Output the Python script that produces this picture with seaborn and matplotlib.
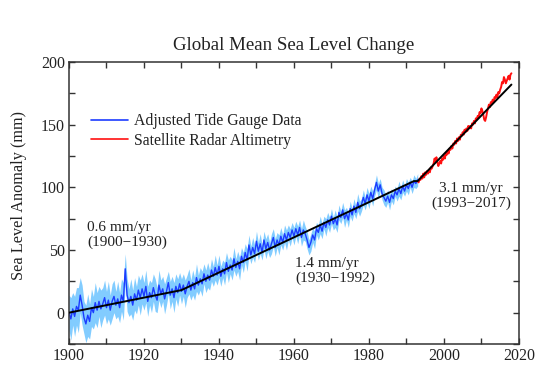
import numpy as np
import pandas as pd
import matplotlib
matplotlib.use("Agg")
import matplotlib.pyplot as plt
import seaborn as sns
from matplotlib.ticker import MultipleLocator

# ---------------- data ----------------
# Adjusted tide gauge record, half-year steps 1900.0 .. 1993.0
tide_years = [1900 + 0.5 * i for i in range(187)]
tide_vals = [
    0, -5, 3, -3, 5, 2, 14, 6, -4, -9, -2, -7, 4, 0, 8, 2, 9, 3, 7, 12,
    4, 10, 2, 9, 13, 6, 11, 4, 14, 9, 35, 14, 8, 13, 6, 15, 10, 18, 12, 19,
    13, 21, 9, 16, 12, 20, 14, 10, 22, 15, 19, 11, 17, 24, 14, 19, 12, 21, 16, 23,
    17, 22, 15, 21, 25, 18, 24, 19, 28, 22, 27, 23, 31, 25, 30, 26, 34, 29, 36, 30,
    37, 29, 35, 31, 40, 33, 38, 34, 43, 36, 41, 35, 45, 40, 48, 42, 54, 46, 52, 47,
    57, 49, 55, 48, 58, 51, 56, 50, 55, 60, 52, 58, 54, 61, 56, 63, 58, 64, 60, 66,
    61, 67, 62, 68, 60, 66, 63, 58, 52, 56, 62, 58, 67, 64, 70, 65, 72, 68, 74, 70,
    77, 71, 75, 70, 80, 76, 82, 75, 79, 74, 83, 78, 85, 80, 88, 83, 86, 92, 87, 94,
    89, 96, 91, 98, 104, 97, 102, 95, 92, 89, 93, 88, 94, 91, 97, 94, 99, 95, 101, 97,
    102, 99, 104, 100, 105, 103, 106]
tide_err = [
    14, 17, 13, 16, 15, 18, 14, 16, 13, 15, 17, 14, 15, 13, 16, 14, 12, 15, 13, 14,
    13, 15, 12, 14, 13, 11, 14, 12, 13, 15, 12, 13, 11, 14, 12, 13, 11, 12, 14, 12,
    11, 13, 12, 10, 12, 11, 13, 10, 12, 11, 10, 12, 11, 9, 11, 10, 12, 10, 11, 9,
    10, 9, 11, 9, 10, 8, 10, 9, 11, 8, 9, 10, 8, 9, 10, 8, 9, 8, 10, 8,
    9, 8, 7, 9, 8, 9, 7, 8, 9, 7, 8, 9, 7, 8, 7, 9, 8, 7, 8, 7,
    8, 7, 8, 6, 7, 8, 7, 6, 8, 7, 7, 6, 8, 7, 6, 7, 8, 6, 7, 6,
    7, 6, 7, 6, 7, 8, 6, 7, 6, 7, 6, 7, 5, 6, 7, 6, 5, 7, 6, 6,
    6, 5, 7, 6, 6, 5, 6, 7, 5, 6, 6, 5, 6, 5, 7, 6, 5, 6, 5, 6,
    6, 5, 6, 5, 6, 6, 5, 5, 6, 5, 5, 6, 5, 5, 4, 5, 6, 5, 5, 4,
    5, 5, 4, 5, 5, 4, 5]

# Satellite radar altimetry, quarter-year steps 1993.0 .. 2018.0
sat_years = [1993 + 0.25 * i for i in range(101)]
sat_vals = [
    105, 104, 107, 106, 109, 107, 111, 108, 112, 110, 113, 111,
    114, 112, 116, 115, 117, 119, 123, 121, 124, 120, 117, 119,
    121, 119, 123, 122, 125, 123, 127, 126, 129, 127, 131, 130,
    133, 131, 135, 134, 137, 135, 139, 137, 140, 138, 142, 141,
    144, 142, 146, 144, 147, 145, 149, 147, 149, 147, 151, 150,
    153, 151, 155, 154, 157, 156, 160, 159, 163, 161, 158, 154,
    153, 156, 160, 163, 166, 164, 168, 167, 170, 168, 172, 171,
    174, 172, 176, 175, 178, 180, 184, 183, 188, 186, 183, 185,
    187, 189, 186, 190, 191]

# piecewise linear trend segments
trend_years = [1900, 1930, 1992, 1993, 2018]
trend_vals = [0, 18, 105, 105, 182]

rates = ["0.6 mm/yr", "1.4 mm/yr", "3.1 mm/yr"]
periods = ["(1900\u22121930)", "(1930\u22121992)", "(1993\u22122017)"]

# ---------------- figure ----------------
sns.set_theme(style="ticks")
plt.rcParams["font.family"] = ["Liberation Serif", "DejaVu Serif"]

fig = plt.figure(figsize=(5.55, 3.67), dpi=100)
ax = fig.add_axes([0.1243, 0.0627, 0.8107, 0.7683])

tide = pd.DataFrame({"year": tide_years, "val": tide_vals, "err": tide_err})
sat = pd.DataFrame({"year": sat_years, "val": sat_vals})
trend = pd.DataFrame({"year": trend_years, "val": trend_vals})

ax.fill_between(tide["year"], tide["val"] - tide["err"], tide["val"] + tide["err"],
                color="#6cc4ff", alpha=0.85, linewidth=0, zorder=1)
sns.lineplot(data=tide, x="year", y="val", ax=ax, color="#1c3cff", linewidth=1.0,
             label="Adjusted Tide Gauge Data", zorder=2)
sns.lineplot(data=sat, x="year", y="val", ax=ax, color="#ff1010", linewidth=1.4,
             label="Satellite Radar Altimetry", zorder=3)
sns.lineplot(data=trend, x="year", y="val", ax=ax, color="black", linewidth=1.4,
             legend=False, zorder=4)

ax.set_xlim(1900, 2020)
ax.set_ylim(-25, 200)
ax.xaxis.set_major_locator(MultipleLocator(20))
ax.xaxis.set_minor_locator(MultipleLocator(10))
ax.yaxis.set_major_locator(MultipleLocator(50))
ax.yaxis.set_minor_locator(MultipleLocator(25))
ax.tick_params(which="both", direction="in", top=True, right=True, length=4,
               width=1.0, color="#333333", labelsize=11.5, labelcolor="#222222", pad=3)
for s in ax.spines.values():
    s.set_linewidth(1.1)
    s.set_color("#333333")
    s.set_visible(True)

ax.set_xlabel("")
ax.set_ylabel("Sea Level Anomaly (mm)", fontsize=11.7, color="#222222")
ax.yaxis.set_label_coords(-0.093, 0.525)
ax.set_title("Global Mean Sea Level Change", fontsize=13.6, color="#222222", pad=9)

leg = ax.legend(loc="upper left", bbox_to_anchor=(0.036, 0.84), frameon=False,
                fontsize=11.3, handlelength=2.3, handletextpad=0.4, labelspacing=0.22,
                borderaxespad=0)
for t in leg.get_texts():
    t.set_color("#222222")
for h in leg.get_lines():
    h.set_linewidth(1.2)

ax.text(1904.8, 62, rates[0] + "\n" + periods[0], fontsize=11, color="#222222",
        va="center", ha="left", multialignment="left", linespacing=1.15)
ax.text(1960.3, 33, rates[1] + "\n" + periods[1], fontsize=11, color="#222222",
        va="center", ha="left", multialignment="left", linespacing=1.15)
ax.text(2007.2, 93, rates[2] + "\n" + periods[2], fontsize=11, color="#222222",
        va="center", ha="center", multialignment="center", linespacing=1.15)

fig.savefig("out.png", dpi=100)
